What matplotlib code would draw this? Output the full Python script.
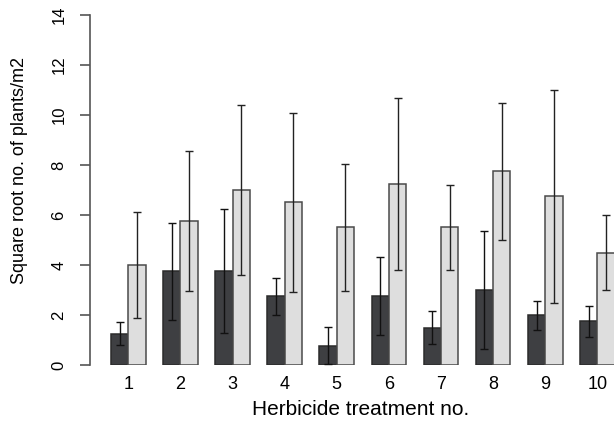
import numpy as np
import matplotlib
matplotlib.use('Agg')
import matplotlib.pyplot as plt

plt.rcParams['font.family'] = ['Liberation Sans', 'DejaVu Sans']

# treatment numbers and mean sqrt plant counts (dark = first series, light = second)
treatments = ['1', '2', '3', '4', '5', '6', '7', '8', '9', '10']
mean_dark = [1.25, 3.75, 3.75, 2.75, 0.77, 2.76, 1.49, 3.0, 2.0, 1.75]
err_dark = [0.46, 1.94, 2.48, 0.74, 0.74, 1.55, 0.66, 2.35, 0.58, 0.63]
mean_light = [4.0, 5.77, 7.0, 6.5, 5.5, 7.24, 5.5, 7.74, 6.74, 4.5]
err_light = [2.13, 2.8, 3.4, 3.58, 2.53, 3.45, 1.7, 2.72, 4.27, 1.49]


def plot_treatments():
    fig = plt.figure(figsize=(6.14, 4.23), dpi=100)
    ax = fig.add_axes([90 / 614, 58 / 423, 524 / 614, 350 / 423])

    # barplot(beside=TRUE) layout: two unit-wide bars per group, one unit gap
    groups = np.arange(len(treatments))
    x_dark = 1.5 + 3 * groups
    x_light = 2.5 + 3 * groups

    ax.bar(x_dark, mean_dark, width=1.0, color='#3e3f42', edgecolor='#2b2b2b', linewidth=1.1)
    ax.bar(x_light, mean_light, width=1.0, color='#dedede', edgecolor='#4a4a4a', linewidth=1.1)

    ax.errorbar(x_dark, mean_dark, yerr=err_dark, fmt='none', ecolor='#111111',
                elinewidth=1.0, capsize=2.6, capthick=1.0)
    ax.errorbar(x_light, mean_light, yerr=err_light, fmt='none', ecolor='#222222',
                elinewidth=1.0, capsize=2.6, capthick=1.0)

    ax.set_xlim(-0.21, 29.96)
    ax.set_ylim(0, 14)

    for side in ['top', 'right', 'bottom']:
        ax.spines[side].set_visible(False)
    ax.spines['left'].set_color('#555555')
    ax.spines['left'].set_linewidth(1.2)

    ax.set_xticks(2 + 3 * groups)
    ax.set_xticklabels(treatments, fontsize=13)
    ax.tick_params(axis='x', length=0, pad=8)

    ax.set_yticks(np.arange(0, 15, 2))
    ax.tick_params(axis='y', length=7, width=1.2, color='#555555', pad=10, labelsize=12)
    plt.setp(ax.get_yticklabels(), rotation=90, va='center')

    ax.set_xlabel('Herbicide treatment no.', fontsize=15)
    ax.xaxis.set_label_coords(0.517, -0.128)
    ax.xaxis.label.set_va('center')
    ax.set_ylabel('Square root no. of plants/m2', fontsize=13)
    ax.yaxis.set_label_coords(-0.134, 0.557)
    ax.yaxis.label.set_va('center')

    fig.savefig('out.png', dpi=100)


if __name__ == '__main__':
    plot_treatments()
